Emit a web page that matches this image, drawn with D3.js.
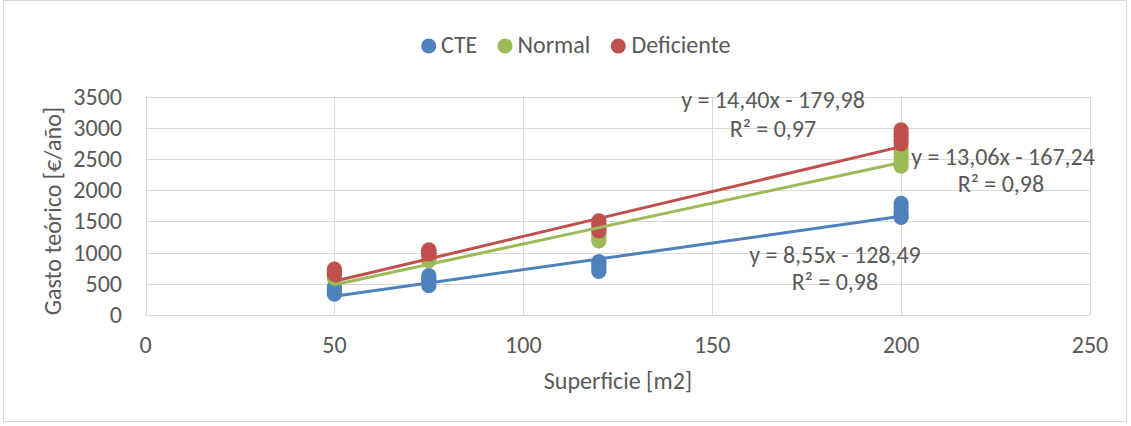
<!DOCTYPE html>
<html>
<head>
<meta charset="utf-8">
<script src="https://cdn.jsdelivr.net/npm/d3@7"></script>
<style>
  html, body { margin: 0; padding: 0; background: #fff; }
  svg text { font-family: Carlito, Calibri, Lato, "Open Sans", sans-serif; fill: #595959; }
</style>
</head>
<body>
<svg id="chart" width="1131" height="426"></svg>
<script>
// Floor area categories (m2) and annual theoretical cost (€/año) per series
const superficies = [50, 75, 120, 200];
const seriesNames = ["CTE", "Normal", "Deficiente"];
const seriesColors = ["#4F81BD", "#9BBB59", "#C0504D"];

const gastoCTE = [
  [335, 360, 390, 420, 450],
  [470, 510, 550, 590, 630],
  [700, 740, 780, 820, 855],
  [1565, 1600, 1650, 1720, 1790]
];
const gastoNormal = [
  [590, 610, 630, 655, 680],
  [870, 890, 910, 930, 950],
  [1190, 1220, 1260, 1300, 1340],
  [2385, 2450, 2520, 2580, 2650]
];
const gastoDeficiente = [
  [655, 675, 695, 715, 735],
  [980, 995, 1010, 1030, 1045],
  [1350, 1390, 1430, 1470, 1510],
  [2745, 2800, 2860, 2920, 2970]
];

// Linear trend lines: y = slope·x + intercept
const trendSlope = [8.55, 13.06, 14.40];
const trendIntercept = [-128.49, -167.24, -179.98];
const trendR2 = [0.98, 0.98, 0.97];

const xTicks = [0, 50, 100, 150, 200, 250];
const yTicks = [0, 500, 1000, 1500, 2000, 2500, 3000, 3500];

const svg = d3.select("#chart");
const FS = 24;

// Chart frame
svg.append("rect")
  .attr("x", 3.5).attr("y", 0.5).attr("width", 1123).attr("height", 421)
  .attr("fill", "#fff").attr("stroke", "#D9D9D9").attr("stroke-width", 1);

const x = d3.scaleLinear().domain([0, 250]).range([145.5, 1090]);
const y = d3.scaleLinear().domain([0, 3500]).range([315, 96.7]);

// Gridlines
const grid = svg.append("g").attr("stroke", "#D9D9D9").attr("stroke-width", 1);
grid.selectAll("line.h").data(yTicks).join("line")
  .attr("x1", x(0)).attr("x2", x(250))
  .attr("y1", d => Math.round(y(d)) + 0.5).attr("y2", d => Math.round(y(d)) + 0.5);
grid.selectAll("line.v").data(xTicks).join("line")
  .attr("y1", y(0)).attr("y2", y(3500))
  .attr("x1", d => Math.round(x(d)) + 0.5).attr("x2", d => Math.round(x(d)) + 0.5);

// Tick labels
svg.append("g").selectAll("text").data(yTicks).join("text")
  .attr("x", 122).attr("y", d => y(d) + 8)
  .attr("text-anchor", "end").attr("font-size", FS)
  .text(d => d);
svg.append("g").selectAll("text").data(xTicks).join("text")
  .attr("x", d => x(d)).attr("y", 353)
  .attr("text-anchor", "middle").attr("font-size", FS)
  .text(d => d);

// Axis titles
svg.append("text")
  .attr("transform", "translate(61,211) rotate(-90)")
  .attr("text-anchor", "middle").attr("font-size", FS)
  .text("Gasto teórico [€/año]");
svg.append("text")
  .attr("x", 618).attr("y", 389)
  .attr("text-anchor", "middle").attr("font-size", FS)
  .text("Superficie [m2]");

// Scatter markers, series drawn in order so later ones sit on top
const allSeries = [gastoCTE, gastoNormal, gastoDeficiente];
allSeries.forEach((values, si) => {
  const pts = [];
  values.forEach((group, gi) => group.forEach(v => pts.push([superficies[gi], v])));
  svg.append("g").selectAll("circle").data(pts).join("circle")
    .attr("cx", d => x(d[0])).attr("cy", d => y(d[1]))
    .attr("r", 7.6).attr("fill", seriesColors[si]);
});

// Trend lines over the data range
const xMin = d3.min(superficies), xMax = d3.max(superficies);
seriesNames.forEach((name, si) => {
  const f = v => trendSlope[si] * v + trendIntercept[si];
  svg.append("line")
    .attr("x1", x(xMin)).attr("y1", y(f(xMin)))
    .attr("x2", x(xMax)).attr("y2", y(f(xMax)))
    .attr("stroke", seriesColors[si]).attr("stroke-width", 3);
});

// Trend equation labels
const fmt = v => v.toFixed(2).replace(".", ",");
const eqText = i => `y = ${fmt(trendSlope[i])}x ${trendIntercept[i] < 0 ? "-" : "+"} ${fmt(Math.abs(trendIntercept[i]))}`;
const r2Text = i => `R² = ${fmt(trendR2[i])}`;
const labelPos = [
  { eq: [835, 263], r2: [835, 290] },
  { eq: [1003, 165], r2: [1001, 192] },
  { eq: [773, 108], r2: [773, 137] }
];
labelPos.forEach((p, i) => {
  svg.append("text").attr("x", p.eq[0]).attr("y", p.eq[1])
    .attr("text-anchor", "middle").attr("font-size", FS).text(eqText(i));
  svg.append("text").attr("x", p.r2[0]).attr("y", p.r2[1])
    .attr("text-anchor", "middle").attr("font-size", FS).text(r2Text(i));
});

// Legend
const legendItems = [
  { cx: 428.7, tx: 441 },
  { cx: 505, tx: 517.5 },
  { cx: 618.3, tx: 631.5 }
];
const legend = svg.append("g");
seriesNames.forEach((name, i) => {
  legend.append("circle").attr("cx", legendItems[i].cx).attr("cy", 46)
    .attr("r", 7.6).attr("fill", seriesColors[i]);
  legend.append("text").attr("x", legendItems[i].tx).attr("y", 53)
    .attr("font-size", FS).text(name);
});
</script>
</body>
</html>
